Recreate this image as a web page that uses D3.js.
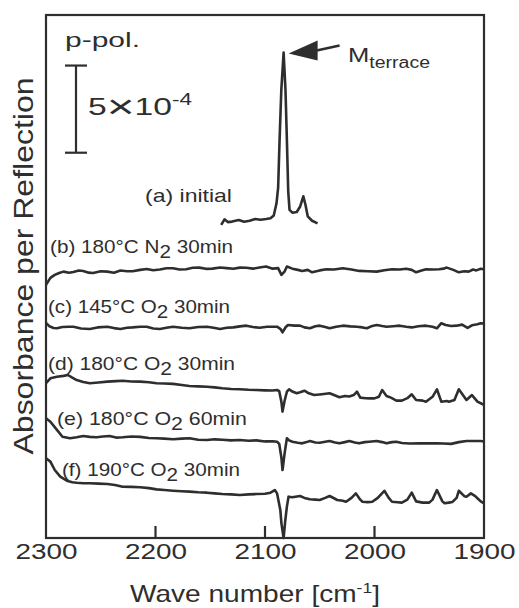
<html>
<head>
<title>IRAS spectra</title>
<style>
body { margin: 0; background: #fff; }
text { font-family: "Liberation Sans", Arial, sans-serif; fill: #2e2e2e; }
</style>
</head>
<body>
<svg width="519" height="608"></svg>
<script src="https://d3js.org/d3.v7.min.js"></script>
<script>
// wave number ticks
var xTicks = [2300, 2200, 2100, 2000, 1900];
// scale bar, in units of 1e-4
var scaleBar = 5;
var scaleBarTop = 27.1;

// series labels: [before subscript, subscript, after subscript]
var seriesLabels = [
  ['(a) initial', '', ''],
  ['(b) 180\u00b0C N', '2', ' 30min'],
  ['(c) 145\u00b0C O', '2', ' 30min'],
  ['(d) 180\u00b0C O', '2', ' 30min'],
  ['(e)  180\u00b0C O', '2', ' 60min'],
  ['(f) 190\u00b0C O', '2', ' 30min']
];

// spectra: [wave number, absorbance x1e-4 incl. offset]
var specA = [[2140,17.96],[2137,18.28],[2134,18.12],[2130,18.15],[2124,18.24],[2119,18.14],[2114,18.2],[2109,18.3],[2104,18.26],[2099,18.3],[2095,18.34],[2092,18.5],[2089.5,19.2],[2088,20.1],[2086.7,22.8],[2085.1,25.7],[2083,27.85],[2081.3,25.7],[2080,22.8],[2078.8,19.9],[2077.6,18.82],[2075,18.66],[2071,18.7],[2068,19.0],[2065,19.6],[2063,19.1],[2061,18.45],[2057,18.2],[2052,18.05]];

var specB = [[2300,14.52],[2296,14.92],[2292,15.09],[2288,15.2],[2284,15.28],[2279,15.22],[2275,15.26],[2270,15.34],[2266,15.32],[2261,15.22],[2257,15.2],[2250,15.3],[2244,15.28],[2238,15.22],[2232,15.34],[2226,15.3],[2221,15.3],[2214,15.38],[2208,15.43],[2202,15.36],[2196,15.4],[2190,15.47],[2184,15.47],[2178,15.4],[2172,15.42],[2166,15.5],[2160,15.51],[2154,15.44],[2148,15.45],[2141,15.52],[2135,15.48],[2129,15.44],[2123,15.51],[2117,15.5],[2111,15.45],[2105,15.52],[2099,15.57],[2093,15.45],[2088,15.48],[2085,15.09],[2082,15.3],[2080,15.57],[2075,15.45],[2070,15.38],[2066,15.32],[2061,15.38],[2057,15.24],[2050,15.35],[2044,15.42],[2037,15.4],[2029,15.47],[2021,15.4],[2014,15.32],[2006,15.3],[1998,15.28],[1991,15.36],[1984,15.42],[1977,15.4],[1971,15.44],[1966,15.38],[1962,15.24],[1957,15.34],[1953,15.42],[1947,15.4],[1941,15.42],[1937,15.45],[1934,15.51],[1928,15.38],[1923,15.24],[1918,15.3],[1914,15.28],[1910,15.4],[1907,15.35],[1903,15.44],[1900,15.42]];

var specC = [[2300,12.34],[2297,12.15],[2293,12.05],[2290,12.03],[2285,12.1],[2279,12.12],[2275,12.12],[2268,12.02],[2260,11.99],[2253,12.08],[2244,12.12],[2238,12.04],[2232,11.99],[2226,12.06],[2221,12.08],[2214,12.12],[2208,12.12],[2202,12.02],[2196,11.99],[2190,12.06],[2184,12.12],[2176,12.06],[2169,12.03],[2161,12.1],[2153,12.12],[2147,12.06],[2141,11.99],[2135,12.06],[2129,12.08],[2123,12.14],[2117,12.18],[2111,12.1],[2105,12.06],[2098,12.12],[2089,12.12],[2086,12.0],[2084,11.8],[2081,12.1],[2079,12.22],[2073,12.18],[2068,12.18],[2064,12.08],[2059,12.03],[2054,12.15],[2050,12.18],[2045,12.1],[2041,12.03],[2035,12.12],[2029,12.18],[2022,12.14],[2016,12.12],[2011,12.08],[2007,12.03],[2003,12.14],[1998,12.22],[1993,12.16],[1989,12.12],[1983,12.15],[1977,12.18],[1971,12.12],[1966,12.08],[1960,12.15],[1953,12.18],[1947,12.12],[1943,12.03],[1939,12.32],[1935,12.22],[1930,12.16],[1925,12.18],[1920,12.24],[1915,12.05],[1911,12.2],[1906,12.26],[1903,12.32],[1900,12.3]];

var specD = [[2300,8.88],[2296,9.16],[2290,9.25],[2284,9.3],[2280,9.35],[2276,9.2],[2272,9.06],[2266,8.95],[2260,8.88],[2252,8.92],[2244,8.97],[2236,9.0],[2230,9.02],[2222,8.98],[2214,8.97],[2206,8.93],[2199,8.88],[2192,8.86],[2184,8.84],[2176,8.78],[2169,8.72],[2161,8.7],[2153,8.68],[2146,8.64],[2139,8.59],[2131,8.55],[2123,8.53],[2115,8.5],[2108,8.49],[2100,8.47],[2093,8.46],[2089,8.49],[2087,8.42],[2085,7.8],[2084,7.25],[2082,7.9],[2080,8.39],[2078,8.53],[2075,8.4],[2071,8.3],[2068,8.36],[2064,8.45],[2060,8.3],[2055,8.2],[2048,8.25],[2041,8.3],[2037,8.2],[2032,8.07],[2027,8.15],[2023,8.12],[2019,8.2],[2016,8.39],[2013,8.05],[2008,8.02],[2004,8.01],[2000,8.01],[1996,8.1],[1993,8.49],[1989,8.15],[1985,8.05],[1980,7.88],[1975,7.88],[1970,8.02],[1966,8.24],[1962,7.92],[1956,7.88],[1953,7.82],[1947,8.1],[1943,8.53],[1939,7.82],[1934,7.86],[1932,7.82],[1927,7.92],[1923,8.53],[1916,7.92],[1911,8.2],[1906,7.82],[1902,7.7],[1900,7.63]];

var specE = [[2300,6.87],[2296,6.67],[2290,6.2],[2285,5.81],[2278,5.72],[2272,5.78],[2266,5.85],[2260,5.8],[2254,5.78],[2248,5.82],[2242,5.85],[2236,5.76],[2230,5.78],[2222,5.82],[2214,5.8],[2206,5.74],[2199,5.72],[2192,5.7],[2184,5.66],[2176,5.7],[2169,5.72],[2161,5.64],[2153,5.62],[2146,5.66],[2139,5.64],[2131,5.6],[2123,5.62],[2115,5.58],[2108,5.6],[2100,5.54],[2093,5.55],[2089,5.52],[2087,5.4],[2085,4.6],[2084,3.9],[2082,4.9],[2080,5.72],[2078,5.6],[2075,5.52],[2070,5.46],[2066,5.43],[2062,5.5],[2059,5.56],[2054,5.48],[2050,5.46],[2045,5.52],[2041,5.56],[2036,5.48],[2032,5.43],[2027,5.5],[2023,5.56],[2018,5.48],[2014,5.43],[2009,5.5],[2005,5.52],[1998,5.56],[1993,5.5],[1989,5.43],[1984,5.5],[1980,5.52],[1975,5.45],[1968,5.42],[1959,5.43],[1950,5.43],[1943,5.43],[1937,5.42],[1930,5.4],[1923,5.5],[1916,5.56],[1910,5.56],[1903,5.56],[1900,5.54]];

var specF = [[2300,4.57],[2296,4.38],[2292,3.9],[2287,3.52],[2281,3.29],[2276,3.2],[2272,3.17],[2266,3.14],[2260,3.14],[2252,3.12],[2244,3.1],[2237,3.04],[2230,2.94],[2222,2.93],[2214,2.91],[2206,2.86],[2199,2.79],[2192,2.75],[2184,2.71],[2176,2.68],[2169,2.66],[2161,2.62],[2153,2.6],[2146,2.56],[2139,2.52],[2131,2.5],[2123,2.47],[2115,2.5],[2108,2.52],[2100,2.54],[2095,2.6],[2091,2.75],[2089,2.56],[2086,1.6],[2085,0.84],[2083,0.0],[2081.5,1.0],[2080,1.8],[2078.5,2.37],[2075,2.34],[2068,2.41],[2064,2.3],[2059,2.22],[2054,2.2],[2050,2.18],[2045,2.3],[2041,2.41],[2037,2.28],[2034,2.18],[2029,2.14],[2026,2.08],[2021,2.3],[2017,2.56],[2013,2.2],[2011,2.08],[2006,2.06],[2002,2.08],[1997,2.3],[1991,2.71],[1987,2.3],[1984,2.08],[1979,2.05],[1975,2.03],[1970,2.2],[1966,2.6],[1962,2.1],[1956,2.03],[1950,2.03],[1947,2.2],[1943,2.75],[1938,2.1],[1936,1.99],[1932,2.03],[1929,2.06],[1925,2.3],[1923,2.71],[1918,2.4],[1916,2.37],[1912,2.56],[1908,2.4],[1906,2.28],[1903,2.1],[1900,1.99]];

var spectra = [specA, specB, specC, specD, specE, specF];

var ink = '#2e2e2e';
var svg = d3.select('svg');
var x = d3.scaleLinear().domain([2300, 1900]).range([46, 484]);
var y = d3.scaleLinear().domain([0, 30]).range([538, 15]);

// frame
svg.append('rect')
  .attr('x', x(2300)).attr('y', y(30))
  .attr('width', x(1900) - x(2300)).attr('height', y(0) - y(30))
  .style('fill', 'none').style('stroke', ink).style('stroke-width', 2.2);

// inward ticks on the bottom edge
svg.selectAll('.xtick')
  .data(xTicks.slice(1, -1))
  .enter()
  .append('line')
  .attr('class', 'xtick')
  .attr('x1', function(d) { return x(d); })
  .attr('x2', function(d) { return x(d); })
  .attr('y1', y(0))
  .attr('y2', y(0) - 12)
  .style('stroke', ink).style('stroke-width', 2.2);

// tick labels through the axis generator
var ax = svg.append('g')
  .attr('transform', 'translate(0,' + y(0) + ')')
  .call(d3.axisBottom(x).tickValues(xTicks).tickSize(0).tickPadding(5).tickFormat(d3.format('d')));
ax.select('.domain').remove();
ax.selectAll('line').remove();
ax.selectAll('text')
  .style('font-size', '22px').style('fill', ink)
  .attr('textLength', 62).attr('lengthAdjust', 'spacingAndGlyphs');

// x label
var xl = svg.append('text')
  .attr('x', 255).attr('y', 602)
  .attr('text-anchor', 'middle')
  .style('font-size', '24px')
  .attr('textLength', 250).attr('lengthAdjust', 'spacingAndGlyphs');
xl.append('tspan').text('Wave number [cm');
xl.append('tspan').text('-1').attr('dy', -9).style('font-size', '15px');
xl.append('tspan').text(']').attr('dy', 9);

// y label
svg.append('text')
  .attr('transform', 'translate(33,266) rotate(-90)')
  .attr('text-anchor', 'middle')
  .style('font-size', '27px')
  .attr('textLength', 377).attr('lengthAdjust', 'spacingAndGlyphs')
  .text('Absorbance per Reflection');

// spectra
var line = d3.line()
  .x(function(d) { return x(d[0]); })
  .y(function(d) { return y(d[1]); });

svg.selectAll('.spec')
  .data(spectra)
  .enter()
  .append('path')
  .attr('class', 'spec')
  .attr('d', line)
  .style('fill', 'none')
  .style('stroke', ink)
  .style('stroke-width', 2.6)
  .style('stroke-linejoin', 'round');

// series labels
var labelPos = [[145, 202, 87], [50, 253, 183], [48, 313, 182], [48, 370, 187], [57, 425, 190], [62, 476, 178]];
seriesLabels.forEach(function(l, i) {
  var t = svg.append('text')
    .attr('x', labelPos[i][0]).attr('y', labelPos[i][1])
    .style('font-size', '19px')
    .attr('textLength', labelPos[i][2]).attr('lengthAdjust', 'spacingAndGlyphs');
  t.append('tspan').text(l[0]);
  if (l[1]) {
    t.append('tspan').text(l[1]).attr('dy', 5).style('font-size', '19px');
    t.append('tspan').text(l[2]).attr('dy', -5);
  }
});

// p-pol. and scale bar
svg.append('text')
  .attr('x', 65).attr('y', 47)
  .style('font-size', '21px')
  .attr('textLength', 75).attr('lengthAdjust', 'spacingAndGlyphs')
  .text('p-pol.');

var sb = svg.append('g').style('stroke', ink).style('stroke-width', 2.2);
sb.append('line').attr('x1', 76).attr('x2', 76).attr('y1', y(scaleBarTop)).attr('y2', y(scaleBarTop - scaleBar));
sb.append('line').attr('x1', 65).attr('x2', 87).attr('y1', y(scaleBarTop)).attr('y2', y(scaleBarTop));
sb.append('line').attr('x1', 65).attr('x2', 87).attr('y1', y(scaleBarTop - scaleBar)).attr('y2', y(scaleBarTop - scaleBar));

var st = svg.append('text')
  .attr('x', 88).attr('y', 115)
  .style('font-size', '24px')
  .attr('textLength', 104).attr('lengthAdjust', 'spacingAndGlyphs');
st.append('tspan').text(scaleBar);
st.append('tspan').text('\u00d7').style('font-size', '34px').attr('dy', 3);
st.append('tspan').text('10').attr('dy', -3);
st.append('tspan').text('-4').attr('dy', -10).style('font-size', '16px');

// arrow to the terrace peak
var peak = specA.reduce(function(a, b) { return b[1] > a[1] ? b : a; });
var tipX = x(peak[0]) + 5, tipY = y(peak[1]) + 1;
svg.append('path')
  .attr('d', 'M' + tipX + ',' + tipY + 'L' + (tipX + 29) + ',' + (tipY - 13) + 'L' + (tipX + 29) + ',' + (tipY + 7) + 'Z')
  .style('fill', ink);
svg.append('line')
  .attr('x1', tipX + 28).attr('y1', tipY - 3)
  .attr('x2', tipX + 51).attr('y2', tipY - 8)
  .style('stroke', ink).style('stroke-width', 2.6);

var mt = svg.append('text')
  .attr('x', 348).attr('y', 62)
  .style('font-size', '21px')
  .attr('textLength', 82).attr('lengthAdjust', 'spacingAndGlyphs');
mt.append('tspan').text('M');
mt.append('tspan').text('terrace').attr('dy', 6).style('font-size', '16px');
</script>
</body>
</html>
